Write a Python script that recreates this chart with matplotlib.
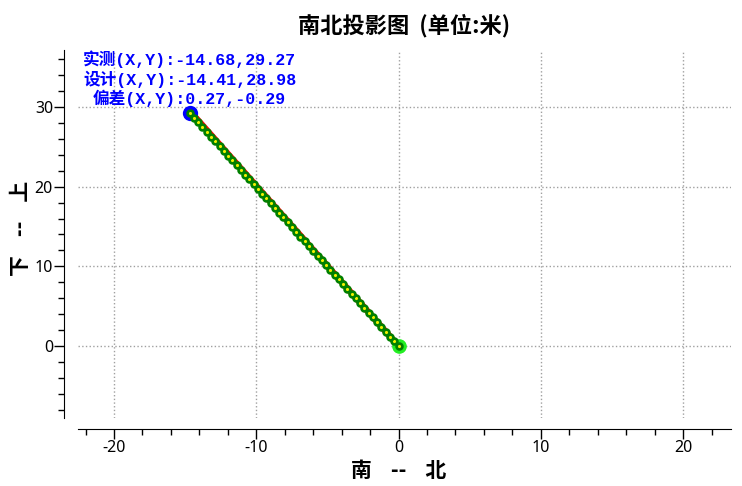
#!/usr/bin/env python
"""南北投影图: measured vs. design trajectory projected on the N-S plane."""

import matplotlib
matplotlib.use('Agg')
import matplotlib.pyplot as plt
from matplotlib.ticker import MultipleLocator

# measured trajectory points (X = 南北, Y = 下上)
meas_x = [0.00, -0.30, -0.60, -0.90, -1.20, -1.50, -1.80, -2.10, -2.40, -2.70,
          -2.99, -3.29, -3.60, -3.90, -4.19, -4.49, -4.79, -5.09, -5.39, -5.69,
          -5.99, -6.29, -6.59, -6.89, -7.19, -7.49, -7.79, -8.09, -8.39, -8.69,
          -8.99, -9.29, -9.59, -9.88, -10.19, -10.49, -10.78, -11.08, -11.38, -11.69,
          -11.98, -12.28, -12.58, -12.88, -13.18, -13.48, -13.78, -14.08, -14.38, -14.68]
meas_y = [0.00, 0.60, 1.19, 1.79, 2.39, 2.99, 3.58, 4.18, 4.78, 5.38,
          5.97, 6.57, 7.17, 7.77, 8.36, 8.96, 9.56, 10.15, 10.75, 11.35,
          11.95, 12.54, 13.14, 13.74, 14.34, 14.93, 15.53, 16.13, 16.73, 17.32,
          17.92, 18.52, 19.12, 19.71, 20.31, 20.91, 21.50, 22.10, 22.70, 23.30,
          23.89, 24.49, 25.09, 25.69, 26.28, 26.88, 27.48, 28.08, 28.67, 29.27]

# design line
design_x = [0.00, -14.41]
design_y = [0.00, 28.98]

end_meas = (-14.68, 29.27)
end_design = (-14.41, 28.98)
offset = (0.27, -0.29)

title = '南北投影图  (单位:米)'
xlabel = '南    --    北'
ylabel = '下    --    上'

cjk = ['Noto Sans CJK SC', 'DejaVu Sans']
plt.rcParams['font.family'] = ['Noto Sans', 'DejaVu Sans']
plt.rcParams['axes.unicode_minus'] = False

fig = plt.figure(figsize=(7.42, 4.86), dpi=100)
ax = fig.add_axes([0.1051, 0.1399, 0.8801, 0.7572])

ax.set_xlim(-22.53, 23.37)
ax.set_ylim(-9.04, 37.15)

# spines detached like the original widget
for s in ('top', 'right'):
    ax.spines[s].set_visible(False)
ax.spines['left'].set_position(('outward', 10))
ax.spines['bottom'].set_position(('outward', 8))

ax.xaxis.set_major_locator(MultipleLocator(10))
ax.xaxis.set_minor_locator(MultipleLocator(2))
ax.yaxis.set_major_locator(MultipleLocator(10))
ax.yaxis.set_minor_locator(MultipleLocator(2))
ax.tick_params(which='major', length=7, width=1, labelsize=11.5, pad=1)
ax.tick_params(which='minor', length=4, width=1)
ax.grid(True, which='major', linestyle=':', color='#a0a0a0', linewidth=1)

# design line (red)
ax.plot(design_x, design_y, '-', color='red', linewidth=4.5, zorder=2)
# measured end point
ax.plot([end_meas[0]], [end_meas[1]], 'o', color='#0000ff', markersize=11,
        markeredgewidth=0, zorder=3)
# start point
ax.plot([meas_x[0]], [meas_y[0]], 'o', color='#22ee22', markersize=9.5, zorder=3)
# measured trajectory
ax.plot(meas_x, meas_y, '-', color='#008000', linewidth=1.5, marker='o',
        markersize=4.2, markerfacecolor='#f0f000', markeredgecolor='#008000',
        markeredgewidth=1.9, zorder=4)

text = (f'实测(X,Y):{end_meas[0]:.2f},{end_meas[1]:.2f}\n'
        f'设计(X,Y):{end_design[0]:.2f},{end_design[1]:.2f}\n'
        f'偏差(X,Y):{offset[0]:.2f},{offset[1]:.2f}')
ax.annotate(text, xy=end_meas, xytext=(0, 4), textcoords='offset points',
            ha='center', va='bottom', multialignment='center',
            color='#0000ff', fontsize=12, fontweight='bold',
            family=['Liberation Mono', 'Noto Sans CJK SC'],
            linespacing=1.15, zorder=5)

fig.text(0.545, 0.948, title, ha='center', va='center', fontsize=16,
         fontweight='bold', family=cjk)
fig.text(0.537, 0.032, xlabel, ha='center', va='center', fontsize=15,
         fontweight='bold', family=cjk)
fig.text(0.027, 0.53, ylabel, ha='center', va='center', fontsize=15,
         fontweight='bold', family=cjk, rotation=90)

fig.savefig('out.png', dpi=100)
